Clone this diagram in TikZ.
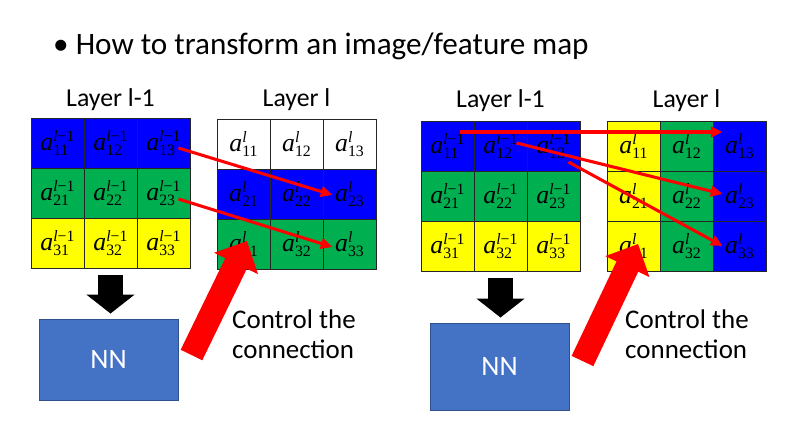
\documentclass[tikz,border=0pt]{standalone}
\usepackage{amsmath,amssymb}
\usepackage{fontspec}
\setmainfont{Carlito}
\newfontfamily\cellfont{Liberation Serif}
\newsavebox\supbox
\newsavebox\subbox
\newcommand{\actv}[2]{{\itshape a}{\fontsize{13.5}{14}\selectfont
	\sbox\supbox{\raisebox{7.8pt}{\itshape l#1}}\sbox\subbox{\raisebox{-3.6pt}{#2}}%
	\ifdim\wd\supbox>\wd\subbox\rlap{\usebox\subbox}\usebox\supbox\else\rlap{\usebox\supbox}\usebox\subbox\fi}}
\usepackage{tikz}
\usetikzlibrary{arrows.meta,calc}
\definecolor{cblue}{RGB}{0,0,255}
\definecolor{cgreen}{RGB}{0,176,80}
\definecolor{cyellow}{RGB}{255,255,0}
\definecolor{cred}{RGB}{255,0,0}
\definecolor{nnblue}{RGB}{68,114,196}
\definecolor{nnedge}{RGB}{47,82,143}

\begin{document}
\begin{tikzpicture}[x=0.03cm, y=-0.03cm,
	cell/.style={draw=black!85, line width=0.6pt, minimum width=1.59cm, minimum height=1.5cm, inner sep=0pt, font=\cellfont\fontsize{22}{24}\selectfont},
	layer/.style={anchor=base, font=\fontsize{22}{26}\selectfont},
	nnbox/.style={fill=nnblue, draw=nnedge, line width=0.8pt, minimum width=4.17cm, text=white, font=\fontsize{24}{28}\selectfont},
	ctrl/.style={align=left, anchor=base west, inner sep=0pt, font=\fontsize{23}{25.6}\selectfont},
	thinred/.style={cred, line width=2.6pt, -{Triangle[width=9pt,length=10pt]}},
	bigred/.style={cred, line width=0.72cm, -{Triangle[width=1.42cm,length=0.75cm]}},
	blkarrow/.style={black, line width=0.75cm, -{Triangle[width=1.42cm,length=0.57cm]}}]
	\useasboundingbox (0,0) rectangle (796,422);
	\node[anchor=base west, inner sep=0pt, font=\fontsize{26.6}{30}\selectfont] (title) at (53,54) {\textbullet\ How to transform an image/feature map};
	\foreach \g/\x/\y in {pA/31/118, pB/421/121} {
		\foreach \r/\col in {1/cblue, 2/cgreen, 3/cyellow} {
			\foreach \c in {1,2,3} {
				\node[cell, fill=\col] (\g\r\c) at ({\x+53*(\c-0.5)},{\y+50*(\r-0.5)}) {\actv{\upshape −1}{\r\c}};
			}
		}
	}
	\foreach \r/\col in {1/white, 2/cblue, 3/cgreen} {
		\foreach \c in {1,2,3} {
			\node[cell, fill=\col] (cA\r\c) at ({217+53*(\c-0.5)},{119+50*(\r-0.5)}) {\actv{}{\r\c}};
		}
	}
	\foreach \c/\col in {1/cyellow, 2/cgreen, 3/cblue} {
		\foreach \r in {1,2,3} {
			\node[cell, fill=\col] (cB\r\c) at ({607+53*(\c-0.5)},{121+50*(\r-0.5)}) {\actv{}{\r\c}};
		}
	}
	\node[layer] (labpA) at ($(pA12.north)+(0,-11)$) {Layer l-1};
	\node[layer] (labcA) at ($(cA12.north)+(0,-12)$) {Layer l};
	\node[layer] (labpB) at ($(pB12.north)+(0,-13)$) {Layer l-1};
	\node[layer] (labcB) at ($(cB12.north)+(0,-13)$) {Layer l};
	\node[nnbox, minimum height=2.43cm] (nnA) at (108.5,359.5) {NN};
	\node[nnbox, minimum height=2.61cm] (nnB) at (499.5,366.5) {NN};
	\draw[blkarrow] ($(pA32.south)+(0,7)$) -- ($(pA32.south |- nnA.north)+(0,-5)$);
	\draw[blkarrow] ($(pB32.south)+(0,7)$) -- ($(pB32.south |- nnB.north)+(0,-5)$);
	\draw[thinred] ($(pA13)+(15,5)$) -- ($(cA23)+(-17,1)$);
	\draw[thinred] ($(pA23)+(15,6)$) -- ($(cA33)+(-17,3)$);
	\draw[thinred] ($(pB11)+(12,-14)$) -- ($(cB13)+(-17,-14)$);
	\draw[thinred] ($(pB12)+(16,-3)$) -- ($(cB23)+(-17,-2)$);
	\draw[thinred] ($(pB13)+(15,16)$) -- ($(cB33)+(-17,0)$);
	\draw[bigred] ($(nnA.east)+(13,-4.5)$) -- ($(cA31)+(3.5,-3)$);
	\draw[bigred] ($(nnB.east)+(13,-5.5)$) -- ($(cB31)+(4.6,-2)$);
	\node[ctrl] (ctrlA) at (232,358) {Control the\\connection};
	\node[ctrl] (ctrlB) at (625,358) {Control the\\connection};
\end{tikzpicture}
\end{document}
